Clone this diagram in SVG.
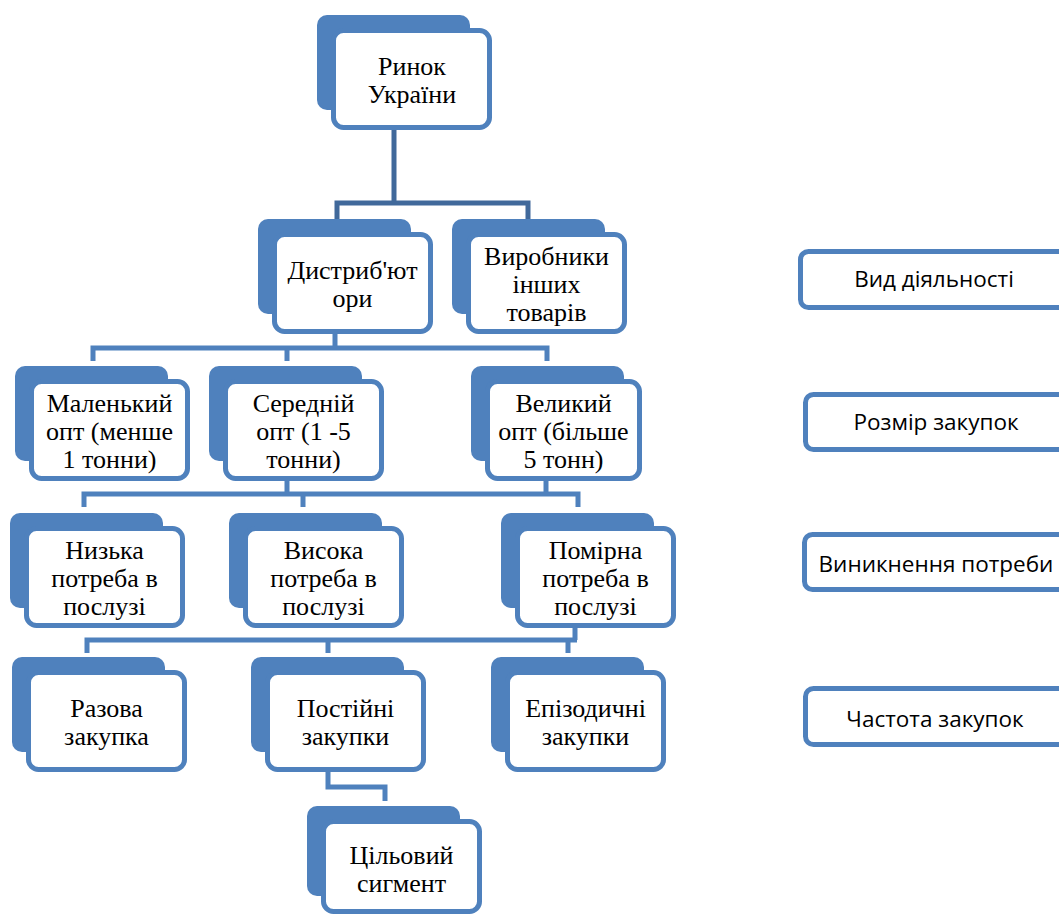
<svg xmlns="http://www.w3.org/2000/svg" width="1059" height="916" viewBox="0 0 1059 916">
  <style>
    .back { fill: #4f81bd; }
    .front { fill: #ffffff; stroke: #4f81bd; stroke-width: 5; }
    .lbl { font-family: "Liberation Serif", "Times New Roman", serif; font-size: 26px; fill: #000; text-anchor: middle; }
    .legend rect { fill: #ffffff; stroke: #4f81bd; stroke-width: 5; }
    .legend text { font-family: "Open Sans", "Noto Sans", sans-serif; font-size: 22.5px; fill: #000; text-anchor: middle; }
    .wire { fill: none; stroke: #4f81bd; stroke-width: 5; }
    .wire.dark { stroke: #41699b; }
  </style>

  <rect width="1059" height="916" fill="#ffffff"/>

  <!-- connectors -->
  <g id="connectors">
    <path class="wire dark" d="M394,130 V203 M337,220 V203 H528 V220"/>
    <path class="wire" d="M335,334 V348 M93,361 V348 H547 V361 M287,348 V361"/>
    <path class="wire" d="M287,481 V494 M546,481 V494 M84,507 V494 H578 V507 M303,494 V507"/>
    <path class="wire" d="M575,627 V640 M87,653 V640 H577 M328,640 V653 M568,640 V653"/>
    <path class="wire" d="M328,772 V787 H385 V801"/>
  </g>

  <!-- hierarchy nodes: back tab + front card -->
  <g id="n-rynok">
    <rect class="back" x="317" y="15" width="153" height="95" rx="10"/>
    <rect class="front" x="333.5" y="30.5" width="156" height="97" rx="10"/>
    <text class="lbl" x="412" y="75"><tspan x="412">Ринок</tspan><tspan x="412" dy="28">України</tspan></text>
  </g>

  <g id="n-dystr">
    <rect class="back" x="258" y="219" width="153" height="95" rx="10"/>
    <rect class="front" x="274.5" y="234.5" width="156" height="97" rx="10"/>
    <text class="lbl" x="352.5" y="279"><tspan x="352.5">Дистриб'ют</tspan><tspan x="352.5" dy="28">ори</tspan></text>
  </g>

  <g id="n-vyrob">
    <rect class="back" x="452" y="219" width="153" height="95" rx="10"/>
    <rect class="front" x="468.5" y="234.5" width="156" height="97" rx="10"/>
    <text class="lbl" x="546.5" y="265"><tspan x="546.5">Виробники</tspan><tspan x="546.5" dy="28">інших</tspan><tspan x="546.5" dy="28">товарів</tspan></text>
  </g>

  <g id="n-small">
    <rect class="back" x="15" y="366" width="153" height="95" rx="10"/>
    <rect class="front" x="31.5" y="381.5" width="156" height="97" rx="10"/>
    <text class="lbl" x="109.5" y="412"><tspan x="109.5">Маленький</tspan><tspan x="109.5" dy="28">опт (менше</tspan><tspan x="109.5" dy="28">1 тонни)</tspan></text>
  </g>

  <g id="n-medium">
    <rect class="back" x="209" y="366" width="153" height="95" rx="10"/>
    <rect class="front" x="225.5" y="381.5" width="156" height="97" rx="10"/>
    <text class="lbl" x="303.5" y="412"><tspan x="303.5">Середній</tspan><tspan x="303.5" dy="28">опт (1 -5</tspan><tspan x="303.5" dy="28">тонни)</tspan></text>
  </g>

  <g id="n-large">
    <rect class="back" x="471" y="366" width="153" height="95" rx="10"/>
    <rect class="front" x="487.5" y="381.5" width="152" height="97" rx="10"/>
    <text class="lbl" x="563.5" y="412"><tspan x="563.5">Великий</tspan><tspan x="563.5" dy="28">опт (більше</tspan><tspan x="563.5" dy="28">5 тонн)</tspan></text>
  </g>

  <g id="n-low">
    <rect class="back" x="10" y="513" width="153" height="95" rx="10"/>
    <rect class="front" x="26.5" y="528.5" width="156" height="97" rx="10"/>
    <text class="lbl" x="104.5" y="559"><tspan x="104.5">Низька</tspan><tspan x="104.5" dy="28">потреба в</tspan><tspan x="104.5" dy="28">послузі</tspan></text>
  </g>

  <g id="n-high">
    <rect class="back" x="229" y="513" width="153" height="95" rx="10"/>
    <rect class="front" x="245.5" y="528.5" width="156" height="97" rx="10"/>
    <text class="lbl" x="323.5" y="559"><tspan x="323.5">Висока</tspan><tspan x="323.5" dy="28">потреба в</tspan><tspan x="323.5" dy="28">послузі</tspan></text>
  </g>

  <g id="n-moderate">
    <rect class="back" x="501" y="513" width="153" height="95" rx="10"/>
    <rect class="front" x="517.5" y="528.5" width="156" height="97" rx="10"/>
    <text class="lbl" x="595.5" y="559"><tspan x="595.5">Помірна</tspan><tspan x="595.5" dy="28">потреба в</tspan><tspan x="595.5" dy="28">послузі</tspan></text>
  </g>

  <g id="n-once">
    <rect class="back" x="12" y="657" width="153" height="95" rx="10"/>
    <rect class="front" x="28.5" y="672.5" width="156" height="97" rx="10"/>
    <text class="lbl" x="106.5" y="717"><tspan x="106.5">Разова</tspan><tspan x="106.5" dy="28">закупка</tspan></text>
  </g>

  <g id="n-regular">
    <rect class="back" x="251" y="657" width="153" height="95" rx="10"/>
    <rect class="front" x="267.5" y="672.5" width="156" height="97" rx="10"/>
    <text class="lbl" x="345.5" y="717"><tspan x="345.5">Постійні</tspan><tspan x="345.5" dy="28">закупки</tspan></text>
  </g>

  <g id="n-episodic">
    <rect class="back" x="491" y="657" width="153" height="95" rx="10"/>
    <rect class="front" x="507.5" y="672.5" width="156" height="97" rx="10"/>
    <text class="lbl" x="585.5" y="717"><tspan x="585.5">Епізодичні</tspan><tspan x="585.5" dy="28">закупки</tspan></text>
  </g>

  <g id="n-target">
    <rect class="back" x="307" y="806" width="153" height="90" rx="10"/>
    <rect class="front" x="323.5" y="821.5" width="156" height="90" rx="10"/>
    <text class="lbl" x="401.5" y="864"><tspan x="401.5">Цільовий</tspan><tspan x="401.5" dy="28">сигмент</tspan></text>
  </g>

  <!-- level captions on the right -->
  <g id="cap-activity" class="legend">
    <rect x="800.5" y="251.5" width="270" height="56" rx="8"/>
    <text x="934" y="287">Вид діяльності</text>
  </g>
  <g id="cap-volume" class="legend">
    <rect x="805.5" y="394.5" width="270" height="55" rx="8"/>
    <text x="936" y="430">Розмір закупок</text>
  </g>
  <g id="cap-need" class="legend">
    <rect x="804.5" y="534.5" width="270" height="55" rx="8"/>
    <text x="936" y="572">Виникнення потреби</text>
  </g>
  <g id="cap-frequency" class="legend">
    <rect x="805.5" y="688.5" width="270" height="56" rx="8"/>
    <text x="935" y="727">Частота закупок</text>
  </g>
</svg>
